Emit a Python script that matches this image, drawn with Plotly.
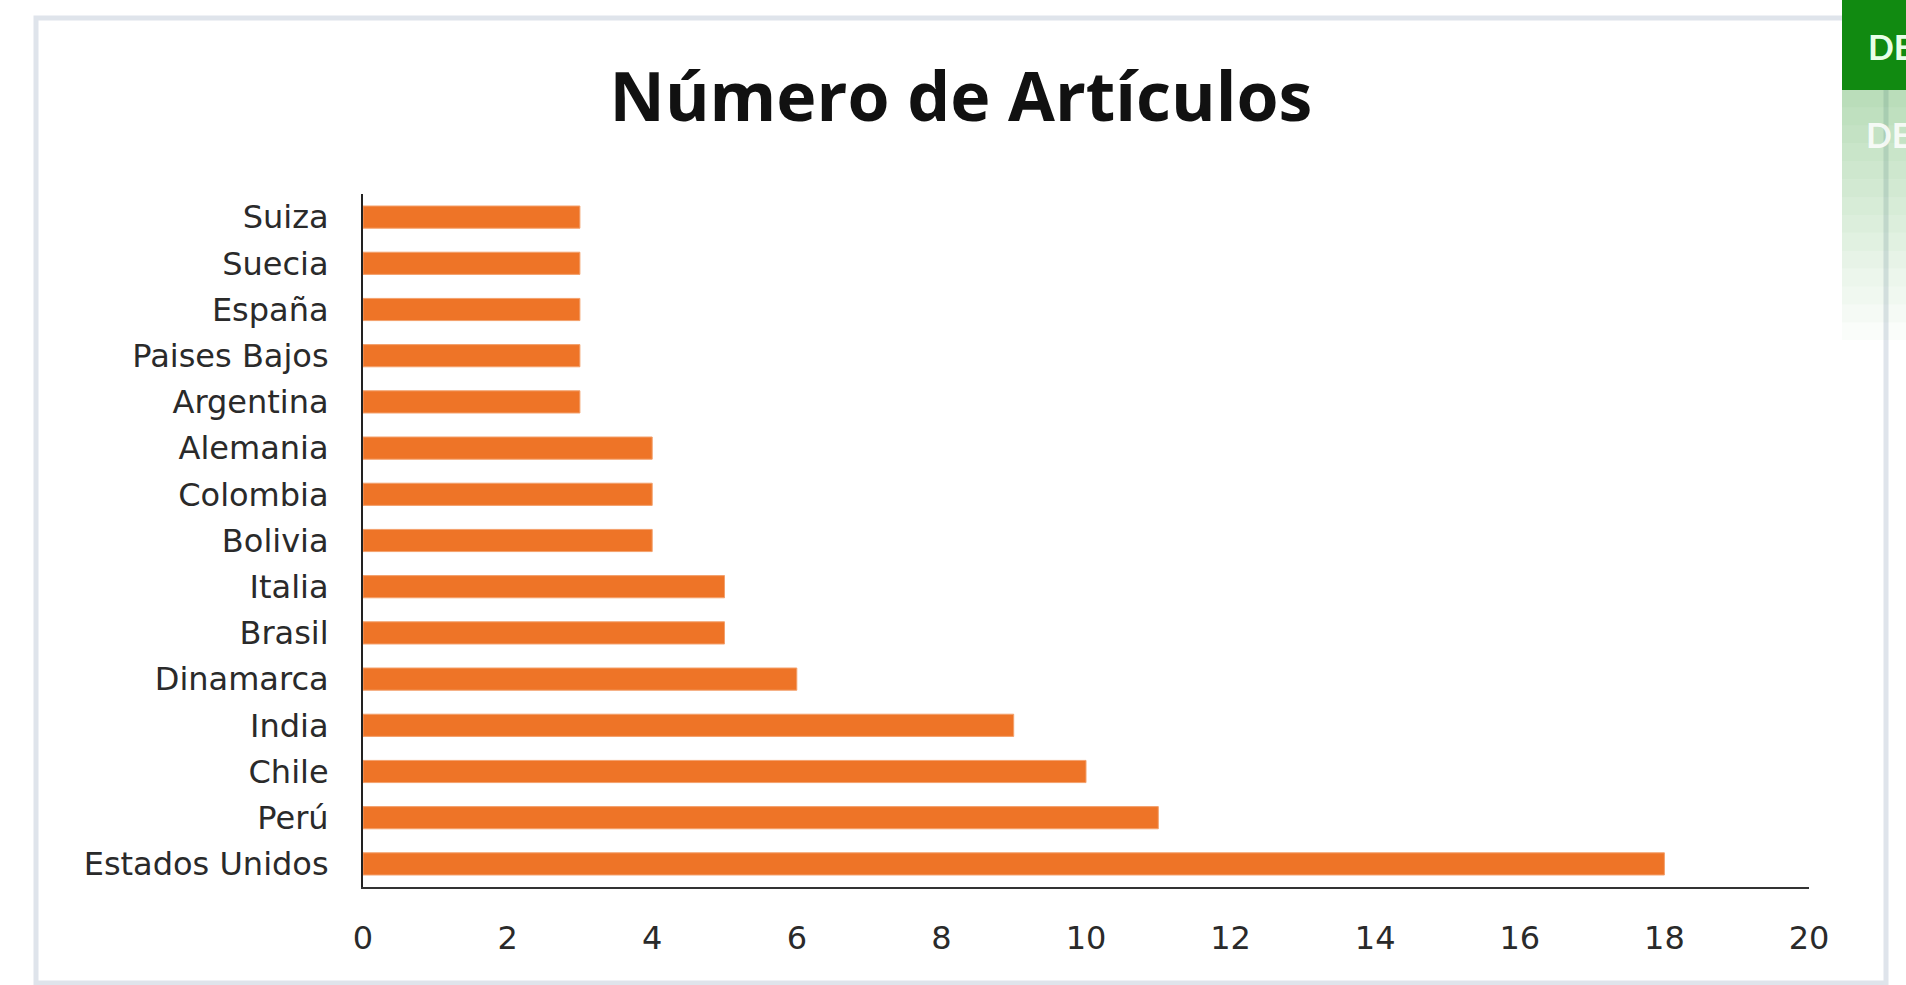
import plotly.graph_objects as go

# Data (top-to-bottom order as displayed)
paises = ["Suiza", "Suecia", "España", "Paises Bajos", "Argentina", "Alemania",
          "Colombia", "Bolivia", "Italia", "Brasil", "Dinamarca", "India",
          "Chile", "Perú", "Estados Unidos"]
articulos = [3, 3, 3, 3, 3, 4, 4, 4, 5, 5, 6, 9, 10, 11, 18]
x_ticks = [0, 2, 4, 6, 8, 10, 12, 14, 16, 18, 20]
titulo = "Número de Artículos"

W, H = 1906, 985
L, R, T, B = 363, 1809, 194, 887  # plot area in pixels


def px(x):
    return (x - L) / (R - L)


def py(y):
    return (B - y) / (B - T)


fig = go.Figure()
fig.add_trace(go.Bar(
    y=paises, x=articulos, orientation="h",
    marker=dict(color="#ee7427", line=dict(color="#f3a06c", width=1)),
    hoverinfo="x+y",
))

shapes = []
# outer chart border
shapes.append(dict(type="rect", xref="paper", yref="paper",
                   x0=px(36), x1=px(1886), y0=py(18), y1=py(983),
                   line=dict(color="#dfe4eb", width=5), fillcolor="rgba(0,0,0,0)", layer="below"))
# green tab on the right
shapes.append(dict(type="rect", xref="paper", yref="paper",
                   x0=px(1842), x1=px(1906), y0=py(0), y1=py(90),
                   line=dict(width=0), fillcolor="#118a11", layer="above"))
# fading green gradient below the tab
n = 14
for i in range(n):
    y0 = 90 + i * 250 / n
    y1 = 90 + (i + 1) * 250 / n
    op = 0.32 * (1 - i / n)
    shapes.append(dict(type="rect", xref="paper", yref="paper",
                       x0=px(1842), x1=px(1906), y0=py(y0), y1=py(y1),
                       line=dict(width=0), fillcolor=f"rgba(40,150,40,{op:.3f})", layer="above"))

annotations = [
    dict(text="<b>DE</b>", xref="paper", yref="paper", x=px(1866), y=py(47),
         xanchor="left", yanchor="middle", showarrow=False,
         font=dict(family="Lato", size=34, color="#e8ffe8")),
    dict(text="<b>DE</b>", xref="paper", yref="paper", x=px(1864), y=py(135),
         xanchor="left", yanchor="middle", showarrow=False,
         font=dict(family="Lato", size=34, color="rgba(255,255,255,0.85)")),
]

tick_font = dict(family="DejaVu Sans", size=32, color="#2a2a2a")

fig.update_layout(
    width=W, height=H,
    margin=dict(l=L, r=W - R, t=T, b=H - B, pad=0),
    paper_bgcolor="white", plot_bgcolor="white",
    showlegend=False,
    bargap=0.52,
    title=dict(text="<b>" + titulo + "</b>", xref="container", yref="container",
               x=961 / W, y=1 - 97 / H, xanchor="center", yanchor="middle",
               font=dict(family="Open Sans", size=68, color="#111111")),
    xaxis=dict(range=[0, 20], tickvals=x_ticks, showgrid=False, zeroline=False,
               showline=True, linecolor="#333333", linewidth=2, ticks="",
               ticklabelstandoff=22, tickfont=tick_font, fixedrange=True),
    yaxis=dict(type="category", categoryorder="array", categoryarray=paises,
               autorange="reversed", showgrid=False, zeroline=False,
               showline=True, linecolor="#222222", linewidth=2, ticks="",
               ticklabelstandoff=26, tickfont=tick_font, fixedrange=True),
    shapes=shapes,
    annotations=annotations,
)

fig.write_html("out.html", config={"displayModeBar": False})
